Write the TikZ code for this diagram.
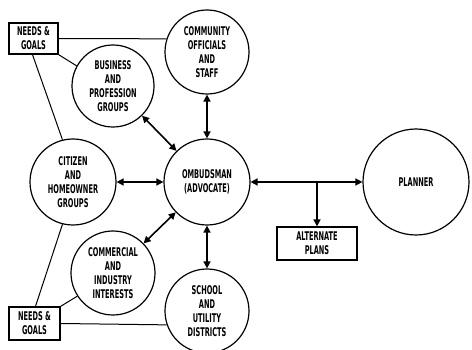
\documentclass[tikz,border=0pt]{standalone}
\usepackage{fontspec}
\setmainfont{DejaVu Sans}[FakeStretch=0.55]
\usetikzlibrary{arrows.meta}
\begin{document}
\begin{tikzpicture}[x=1pt,y=-1pt,
  lbl/.style={font=\bfseries\fontsize{12}{14}\selectfont, align=center},
  bubble/.style={lbl, draw, circle, line width=1.2pt, inner sep=0pt},
  tag/.style={lbl, draw, rectangle, line width=1.3pt, inner sep=0pt},
  link/.style={line width=1pt},
  flow/.style={line width=1.6pt, {Triangle[length=7pt,width=7pt]}-{Triangle[length=7pt,width=7pt]}},
  feed/.style={line width=1.6pt, -{Triangle[length=7pt,width=7pt]}},
]
\useasboundingbox (0,0) rectangle (472,350);

% groups around the ombudsman
\node[bubble, minimum size=84pt] (staff)  at (207,52)  {COMMUNITY\\OFFICIALS\\AND\\STAFF};
\node[bubble, minimum size=82pt] (biz)    at (113,86)  {BUSINESS\\AND\\PROFESSION\\GROUPS};
\node[bubble, minimum size=86pt] (cit)    at (73,182)  {CITIZEN\\AND\\HOMEOWNER\\GROUPS};
\node[bubble, minimum size=86pt] (omb)    at (207,182) {OMBUDSMAN\\(ADVOCATE)};
\node[bubble, minimum size=84pt] (com)    at (113,273) {COMMERCIAL\\AND\\INDUSTRY\\INTERESTS};
\node[bubble, minimum size=84pt] (school) at (207,311) {SCHOOL\\AND\\UTILITY\\DISTRICTS};
\node[bubble, minimum size=106pt] (plan)  at (416,182) {PLANNER};

% boxes
\node[tag, minimum width=49pt, minimum height=31pt] (needsTop) at (33.5,38.5) {NEEDS \&\\GOALS};
\node[tag, minimum width=51pt, minimum height=33pt] (needsBot) at (34.5,323.5) {NEEDS \&\\GOALS};
\node[tag, minimum width=80pt, minimum height=33pt] (alt) at (317,243.5) {ALTERNATE\\PLANS};

% plain links from the needs boxes
\draw[link] (needsTop.east) -- (staff.162);
\draw[link] (needsTop.south east) -- (biz.151);
\draw[link] ([xshift=-1pt]needsTop.south) -- (cit.104);
\draw[link] ([xshift=1pt]needsBot.north) -- (cit.256);
\draw[link] (needsBot.north east) -- (com.213);
\draw[link] (needsBot.east) -- (school.199.5);

% two-way flows
\draw[flow] (staff) -- (omb);
\draw[flow] (biz) -- (omb);
\draw[flow] (cit) -- (omb);
\draw[flow] (com) -- (omb);
\draw[flow] (school) -- (omb);
\draw[flow] (omb) -- (plan);

\coordinate (fork) at (317,182);
\draw[feed] (fork) -- (alt.north);
\end{tikzpicture}
\end{document}
